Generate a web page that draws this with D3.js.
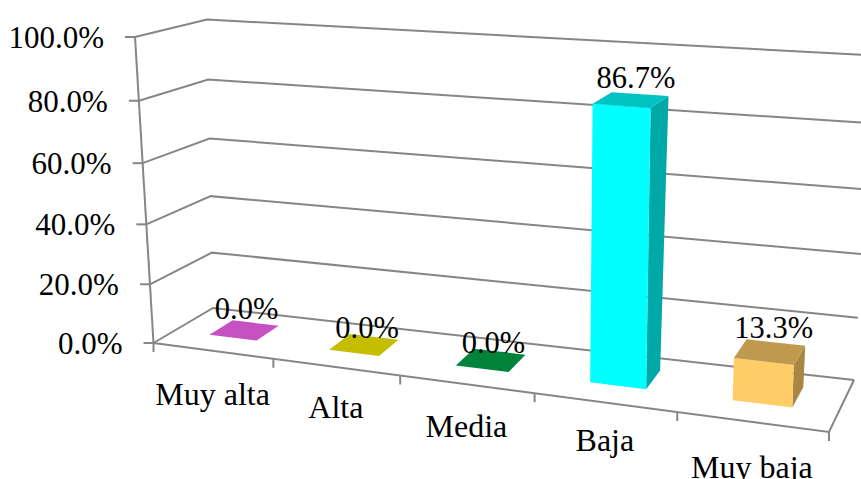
<!DOCTYPE html>
<html>
<head>
<meta charset="utf-8">
<script src="https://cdn.jsdelivr.net/npm/d3@7/dist/d3.min.js"></script>
<style>
  html, body { margin: 0; padding: 0; background: #fff; }
  svg { display: block; }
  text { font-family: "Liberation Serif", "Times New Roman", serif; fill: #000; }
</style>
</head>
<body>
<script>
// Chart data
const categories = ["Muy alta", "Alta", "Media", "Baja", "Muy baja"];
const percentages = [0.0, 0.0, 0.0, 86.7, 13.3];
const yTickValues = [0, 20, 40, 60, 80, 100];

// Face colours for each column
const frontColors = ["#C652C2", "#C4BD00", "#00843C", "#00FFFF", "#FFCC66"];
const topColors = ["#C652C2", "#C4BD00", "#00843C", "#00C2C2", "#BF9A4E"];
const sideColors = ["#A040A0", "#A09A00", "#006830", "#00A8A8", "#A88644"];

// Label placement offsets per category
const categoryLabelDrop = [54, 51, 53, 49, 56];
const valueLabelShift = [[-5, 0], [-3, 5], [-2, 5], [0, -2], [2, 0]];

const width = 861, height = 479;
const gridColor = "#868686";

// Corners of the 3D box in screen space: floor and ceiling, front and back
const box = {
  floor: { fl: [153.5, 343], fr: [829, 432], bl: [213, 308], br: [854, 380] },
  ceil:  { fl: [135, 37],   fr: [838, 87],  bl: [207, 19.5], br: [874, 55.5] }
};

const x = d3.scaleBand().domain(categories).range([0, 1]).paddingInner(0.6).paddingOuter(0.3);
const y = d3.scaleLinear().domain([0, 100]).range([0, 1]);

// Perspective foreshortening along the category and height axes
const warp = (v, k) => v * (1 + k) / (1 + k * v);
const along = u => warp(u, -0.137);
const up = h => warp(h, -0.05);

const lerp = (a, b, t) => [a[0] + (b[0] - a[0]) * t, a[1] + (b[1] - a[1]) * t];
const plane = (q, t, d) => lerp(lerp(q.fl, q.fr, t), lerp(q.bl, q.br, t), d);

// Project (category position, depth, value) onto the screen
function project(u, d, value) {
  const t = along(u);
  return lerp(plane(box.floor, t, d), plane(box.ceil, t, d), up(y(value)));
}

const svg = d3.select("body").append("svg").attr("width", width).attr("height", height);
const path = d3.line();

const gridG = svg.append("g").attr("fill", "none").attr("stroke", gridColor).attr("stroke-width", 2);

// Gridlines running along the left wall and the back wall
yTickValues.forEach(v => {
  gridG.append("path").attr("d", path([project(0, 0, v), project(0, 1, v), project(1, 1, v)]));
});

// Vertical axis, front floor edge, right floor edge
gridG.append("path").attr("d", path([project(0, 0, 0), project(0, 0, 100)]));
gridG.append("path").attr("d", path([project(0, 0, 0), project(1, 0, 0), project(1, 1, 0)]));

// Tick marks on both axes
yTickValues.forEach(v => {
  const p = project(0, 0, v);
  gridG.append("path").attr("d", path([[p[0] - 10, p[1]], p]));
});
d3.range(categories.length + 1).forEach(i => {
  const p = project(i * x.step(), 0, 0);
  gridG.append("path").attr("d", path([p, [p[0], p[1] + 9]]));
});

// Value axis labels
svg.append("g").selectAll("text").data(yTickValues).join("text")
  .attr("x", v => project(0, 0, v)[0] - 31)
  .attr("y", v => project(0, 0, v)[1] + 11)
  .attr("text-anchor", "end")
  .attr("font-size", 31)
  .text(v => d3.format(".1f")(v) + "%");

// Columns, drawn from back-left to front-right
const depthFront = 0.36, depthBack = 0.76;
const barsG = svg.append("g");
categories.forEach((cat, i) => {
  const u0 = x(cat), u1 = u0 + x.bandwidth();
  const v = percentages[i];
  const g = barsG.append("g");
  if (v > 0) {
    g.append("path").attr("fill", sideColors[i]).attr("d", path([
      project(u1, depthFront, 0), project(u1, depthBack, 0),
      project(u1, depthBack, v), project(u1, depthFront, v)]) + "Z");
    g.append("path").attr("fill", frontColors[i]).attr("d", path([
      project(u0, depthFront, 0), project(u1, depthFront, 0),
      project(u1, depthFront, v), project(u0, depthFront, v)]) + "Z");
  }
  g.append("path").attr("fill", topColors[i]).attr("d", path([
    project(u0, depthFront, v), project(u1, depthFront, v),
    project(u1, depthBack, v), project(u0, depthBack, v)]) + "Z");
});

// Value labels sitting above each column top
svg.append("g").selectAll("text").data(categories).join("text")
  .attr("x", (c, i) => project(x(c) + x.bandwidth() / 2, depthBack, percentages[i])[0] - 4 + valueLabelShift[i][0])
  .attr("y", (c, i) => project(x(c) + x.bandwidth() / 2, depthBack, percentages[i])[1] - 4 + valueLabelShift[i][1])
  .attr("text-anchor", "middle")
  .attr("font-size", 30.5)
  .text((c, i) => d3.format(".1f")(percentages[i]) + "%");

// Category labels under the front floor edge
svg.append("g").selectAll("text").data(categories).join("text")
  .attr("x", c => project(x(c) + x.bandwidth() / 2, 0, 0)[0])
  .attr("y", (c, i) => project(x(c) + x.bandwidth() / 2, 0, 0)[1] + categoryLabelDrop[i])
  .attr("text-anchor", "middle")
  .attr("font-size", 32)
  .text(c => c);
</script>
</body>
</html>
